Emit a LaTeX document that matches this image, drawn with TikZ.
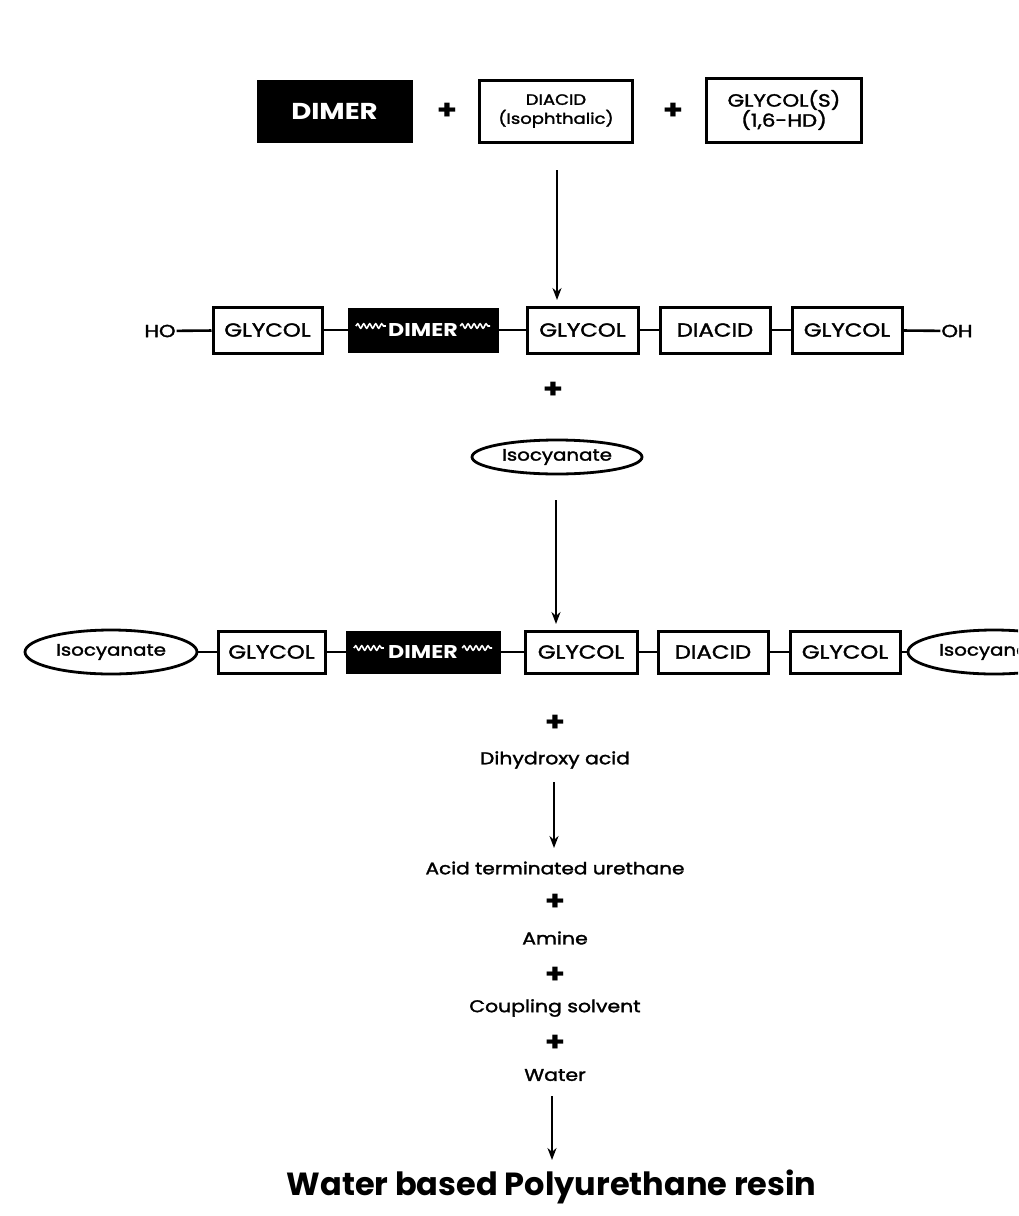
\documentclass[tikz,border=0pt]{standalone}
\usepackage{fontspec}
\setmainfont{Poppins}
\newfontfamily\avg{Poppins}[FakeStretch=1.2,FakeBold=1.8]
\newfontfamily\avgw{Poppins}[FakeStretch=1.2]
\usetikzlibrary{arrows.meta,shapes.geometric,decorations.pathmorphing}
\begin{document}
\begin{tikzpicture}[x=1pt,y=-1pt,
  box/.style={draw=black,line width=3pt,rectangle,inner sep=0pt,font=\avg\fontsize{19}{20}\selectfont,text=black},
  blk/.style={fill=black,draw=black,rectangle,inner sep=0pt,text=white,font=\avgw\bfseries\fontsize{18.5}{19}\selectfont},
  oval/.style={draw=black,line width=2.8pt,ellipse,inner sep=0pt,font=\avg\fontsize{16.5}{17}\selectfont},
  lbl/.style={inner sep=1pt,font=\avg\fontsize{17}{18}\selectfont},
  plus/.style={inner sep=0pt,font=\avgw\bfseries\fontsize{27}{27}\selectfont},
  conn/.style={line width=2.6pt},
  arr/.style={line width=2.4pt,-{Stealth[length=12pt,width=9pt]}},
  wave/.style={draw=white,line width=1.6pt,decorate,decoration={snake,amplitude=2.2pt,segment length=6pt}}
]
\useasboundingbox (0,0) rectangle (1018,1216);
\clip (0,0) rectangle (1018,1216);
\fill[white] (0,0) rectangle (1018,1216);

% Row 1
\node[blk,minimum width=155pt,minimum height=62pt,font=\avgw\bfseries\fontsize{23}{24}\selectfont] (dimA) at (334.5,111) {DIMER};
\node[plus] (p1) at (447,111) {+};
\node[box,minimum width=153pt,minimum height=62pt,align=center,font=\avg\fontsize{15}{19}\selectfont] (diaA) at (556,111) {DIACID\\(Isophthalic)};
\node[plus] (p2) at (673,111) {+};
\node[box,minimum width=155pt,minimum height=64pt,align=center,font=\avg\fontsize{17.8}{20}\selectfont] (glyS) at (784,110) {GLYCOL(S)\\(1,6-HD)};

\coordinate (a1s) at (557,170);
\coordinate (a1e) at (557,300);
\draw[arr] (a1s) -- (a1e);

% Row 2
\node[lbl,font=\avg\fontsize{17.5}{18}\selectfont] (ho) at (160,331) {HO};
\node[box,minimum width=109pt,minimum height=46pt] (gB1) at (267.5,330) {GLYCOL};
\node[blk,minimum width=150pt,minimum height=44pt] (dimB) at (423,330) {\hspace*{33pt}DIMER\hspace*{33pt}};
\node[box,minimum width=111pt,minimum height=46pt] (gB2) at (582.5,330) {GLYCOL};
\node[box,minimum width=110pt,minimum height=46pt] (daB) at (715,330) {DIACID};
\node[box,minimum width=110pt,minimum height=46pt] (gB3) at (847,330) {GLYCOL};
\node[lbl,font=\avg\fontsize{17.5}{18}\selectfont] (oh) at (957,331) {OH};
\draw[wave] ([xshift=8pt,yshift=4pt]dimB.west) -- ++(30,0);
\draw[wave] ([xshift=-38pt,yshift=4pt]dimB.east) -- ++(30,0);
\draw[conn] (ho) -- (gB1);
\draw[conn] (gB1) -- (dimB);
\draw[conn] (dimB) -- (gB2);
\draw[conn] (gB2) -- (daB);
\draw[conn] (daB) -- (gB3);
\draw[conn] (gB3) -- (oh);

\node[plus] (p3) at (553,390) {+};
\node[oval,minimum width=170pt,minimum height=34pt] (isoB) at (557,457) {Isocyanate};

\coordinate (a2s) at (556,500);
\coordinate (a2e) at (556,624);
\draw[arr] (a2s) -- (a2e);

% Row 3
\node[oval,minimum width=172pt,minimum height=44pt] (isoL) at (111,652) {Isocyanate};
\node[box,minimum width=107pt,minimum height=42pt] (gC1) at (271.5,652) {GLYCOL};
\node[blk,minimum width=154pt,minimum height=42pt] (dimC) at (423,652) {\hspace*{33pt}DIMER\hspace*{33pt}};
\node[box,minimum width=112pt,minimum height=42pt] (gC2) at (581,652) {GLYCOL};
\node[box,minimum width=110pt,minimum height=42pt] (daC) at (713,652) {DIACID};
\node[box,minimum width=110pt,minimum height=42pt] (gC3) at (845,652) {GLYCOL};
\node[oval,minimum width=172pt,minimum height=44pt] (isoR) at (994,652) {Isocyanate};
\draw[wave] ([xshift=8pt,yshift=4pt]dimC.west) -- ++(30,0);
\draw[wave] ([xshift=-38pt,yshift=4pt]dimC.east) -- ++(30,0);
\draw[conn] (isoL) -- (gC1);
\draw[conn] (gC1) -- (dimC);
\draw[conn] (dimC) -- (gC2);
\draw[conn] (gC2) -- (daC);
\draw[conn] (daC) -- (gC3);
\draw[conn] (gC3) -- (isoR);

% Lower sequence
\node[plus] (p4) at (555,723) {+};
\node[lbl] (dhy) at (555,760) {Dihydroxy acid};
\node[lbl,font=\avg\fontsize{16.7}{18}\selectfont] (atu) at (555,868) {Acid terminated urethane};
\coordinate (a3s) at (554,782);
\coordinate (a3e) at (554,848);
\draw[arr] (a3s) -- (a3e);
\node[plus] (p5) at (555,902) {+};
\node[lbl] (ami) at (555,938) {Amine};
\node[plus] (p6) at (555,975) {+};
\node[lbl] (cso) at (555,1008) {Coupling solvent};
\node[plus] (p7) at (555,1043) {+};
\node[lbl] (wat) at (555,1075) {Water};
\node[inner sep=1pt,font=\bfseries\fontsize{32}{33}\selectfont] (res) at (551.5,1187) {Water based Polyurethane resin};
\coordinate (a4s) at (552,1096);
\coordinate (a4e) at (552,1160);
\draw[arr] (a4s) -- (a4e);
\end{tikzpicture}
\end{document}
